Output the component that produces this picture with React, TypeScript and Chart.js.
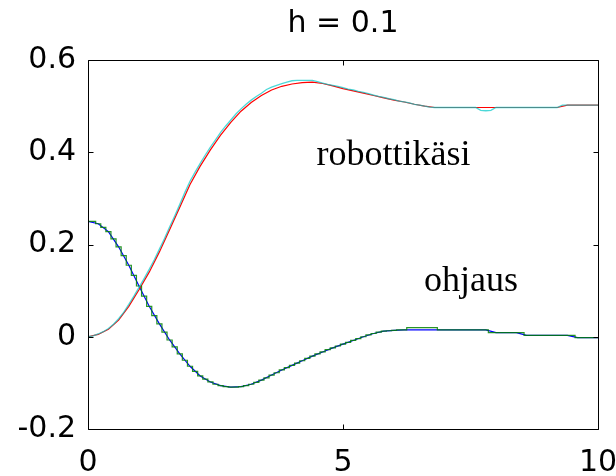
import React, { useEffect, useRef } from "react";
import { Chart, registerables } from "chart.js";

Chart.register(...registerables);

const TITLE = "h = 0.1";
const X_TICKS = [0, 5, 10];
const Y_TICKS = [-0.2, 0, 0.2, 0.4, 0.6];

const T_COARSE = [
  0, 0.2, 0.4, 0.6, 0.8, 1.0, 1.2, 1.4, 1.6, 1.8,
  2.0, 2.2, 2.4, 2.6, 2.8, 3.0, 3.2, 3.4, 3.6, 3.8,
  4.0, 4.2, 4.4, 4.6, 4.8, 5.0, 5.2, 5.4, 5.6, 5.8,
  6.0, 6.2, 6.4, 6.6, 6.8, 7.0, 7.2, 7.4, 7.6, 7.8,
  8.0, 8.2, 8.4, 8.6, 8.8, 9.0, 9.2, 9.4, 9.6, 9.8,
  10.0,
];

const T_FINE = [
  0, 0.1, 0.2, 0.3, 0.4, 0.5, 0.6, 0.7, 0.8, 0.9,
  1.0, 1.1, 1.2, 1.3, 1.4, 1.5, 1.6, 1.7, 1.8, 1.9,
  2.0, 2.1, 2.2, 2.3, 2.4, 2.5, 2.6, 2.7, 2.8, 2.9,
  3.0, 3.1, 3.2, 3.3, 3.4, 3.5, 3.6, 3.7, 3.8, 3.9,
  4.0, 4.1, 4.2, 4.3, 4.4, 4.5, 4.6, 4.7, 4.8, 4.9,
  5.0, 5.1, 5.2, 5.3, 5.4, 5.5, 5.6, 5.7, 5.8, 5.9,
  6.0, 6.1, 6.2, 6.3, 6.4, 6.5, 6.6, 6.7, 6.8, 6.9,
  7.0, 7.1, 7.2, 7.3, 7.4, 7.5, 7.6, 7.7, 7.8, 7.9,
  8.0, 8.1, 8.2, 8.3, 8.4, 8.5, 8.6, 8.7, 8.8, 8.9,
  9.0, 9.1, 9.2, 9.3, 9.4, 9.5, 9.6, 9.7, 9.8, 9.9,
  10.0,
];

// robottikäsi, continuous (red), on T_COARSE
const ROBOT_CONT = [
  0, 0.005, 0.016, 0.036, 0.066, 0.102, 0.14, 0.184, 0.232, 0.281,
  0.33, 0.37, 0.405, 0.437, 0.465, 0.489, 0.508, 0.523, 0.535, 0.543,
  0.548, 0.551, 0.552, 0.549, 0.544, 0.538, 0.533, 0.528, 0.523, 0.518,
  0.513, 0.509, 0.504, 0.5, 0.497, 0.497, 0.497, 0.497, 0.497, 0.497,
  0.497, 0.497, 0.497, 0.497, 0.497, 0.497, 0.497, 0.502, 0.502, 0.502,
  0.502,
];

// ohjaus, continuous (blue), on T_COARSE
const OHJAUS_CONT = [
  0.25, 0.245, 0.228, 0.195, 0.155, 0.11, 0.066, 0.028, -0.007, -0.037,
  -0.064, -0.085, -0.098, -0.106, -0.109, -0.108, -0.103, -0.094, -0.083, -0.072,
  -0.062, -0.052, -0.042, -0.033, -0.024, -0.016, -0.008, 0, 0.007, 0.012,
  0.014, 0.015, 0.015, 0.015, 0.015, 0.015, 0.015, 0.015, 0.015, 0.015,
  0.009, 0.009, 0.009, 0.003, 0.003, 0.003, 0.003, 0.003, -0.002, -0.002,
  -0.002,
];

// robottikäsi, sampled h = 0.1 (cyan), on T_FINE
const ROBOT_SAMPLED = [
  0, 0.002, 0.006, 0.011, 0.018, 0.027, 0.039, 0.053, 0.07, 0.088,
  0.107, 0.126, 0.146, 0.167, 0.19, 0.213, 0.238, 0.262, 0.287, 0.313,
  0.337, 0.357, 0.376, 0.394, 0.411, 0.427, 0.443, 0.457, 0.47, 0.483,
  0.494, 0.504, 0.513, 0.521, 0.528, 0.536, 0.541, 0.545, 0.549, 0.552,
  0.555, 0.556, 0.556, 0.556, 0.556, 0.553, 0.55, 0.547, 0.545, 0.543,
  0.54, 0.537, 0.535, 0.532, 0.53, 0.527, 0.524, 0.521, 0.519, 0.516,
  0.514, 0.511, 0.509, 0.507, 0.504, 0.502, 0.5, 0.498, 0.497, 0.497,
  0.497, 0.497, 0.497, 0.497, 0.497, 0.497, 0.497, 0.491, 0.49, 0.491,
  0.497, 0.497, 0.497, 0.497, 0.497, 0.497, 0.497, 0.497, 0.497, 0.497,
  0.497, 0.497, 0.497, 0.502, 0.502, 0.502, 0.502, 0.502, 0.502, 0.502,
  0.502,
];

// ohjaus, sampled h = 0.1 (green, held between samples), on T_FINE
const OHJAUS_SAMPLED = [
  0.25, 0.25, 0.245, 0.237, 0.228, 0.212, 0.195, 0.176, 0.155, 0.133,
  0.11, 0.088, 0.066, 0.046, 0.028, 0.01, -0.007, -0.022, -0.037, -0.051,
  -0.064, -0.075, -0.085, -0.092, -0.098, -0.103, -0.106, -0.108, -0.109, -0.109,
  -0.108, -0.106, -0.103, -0.099, -0.094, -0.089, -0.083, -0.078, -0.072, -0.067,
  -0.062, -0.057, -0.052, -0.047, -0.042, -0.037, -0.033, -0.028, -0.024, -0.02,
  -0.016, -0.012, -0.008, -0.004, 0, 0.004, 0.007, 0.01, 0.012, 0.013,
  0.014, 0.015, 0.015, 0.02, 0.02, 0.02, 0.02, 0.02, 0.02, 0.015,
  0.015, 0.015, 0.015, 0.015, 0.015, 0.015, 0.015, 0.015, 0.015, 0.009,
  0.009, 0.009, 0.009, 0.009, 0.009, 0.009, 0.003, 0.003, 0.003, 0.003,
  0.003, 0.003, 0.003, 0.003, 0.003, 0.003, -0.002, -0.002, -0.002, -0.002,
  -0.002,
];

const NOTE_TEXT = ["robottikäsi", "ohjaus"];
const NOTE_X = [4.48, 6.59];
const NOTE_Y = [0.3725, 0.0995];

const zip = (xs: number[], ys: number[]) => xs.map((x, i) => ({ x, y: ys[i] }));

const framePlugin = {
  id: "matlabFrame",
  afterDatasetsDraw(chart: any) {
    const { ctx, chartArea: a, scales } = chart;
    const xs = scales.x;
    const ys = scales.y;
    const L = Math.round(a.left) + 0.5;
    const R = Math.round(a.right) + 0.5;
    const T = Math.round(a.top) + 0.5;
    const B = Math.round(a.bottom) + 0.5;
    const tl = 5;
    ctx.save();
    ctx.strokeStyle = "#000";
    ctx.lineWidth = 1;
    ctx.beginPath();
    ctx.rect(L, T, R - L, B - T);
    X_TICKS.forEach((v) => {
      const px = Math.round(xs.getPixelForValue(v)) + 0.5;
      ctx.moveTo(px, B);
      ctx.lineTo(px, B - tl);
      ctx.moveTo(px, T);
      ctx.lineTo(px, T + tl);
    });
    Y_TICKS.forEach((v) => {
      const py = Math.round(ys.getPixelForValue(v)) + 0.5;
      ctx.moveTo(L, py);
      ctx.lineTo(L + tl, py);
      ctx.moveTo(R, py);
      ctx.lineTo(R - tl, py);
    });
    ctx.stroke();

    ctx.fillStyle = "#000";
    ctx.font = '36px "Liberation Serif"';
    ctx.textAlign = "left";
    ctx.textBaseline = "alphabetic";
    NOTE_TEXT.forEach((t, i) => {
      ctx.fillText(t, xs.getPixelForValue(NOTE_X[i]), ys.getPixelForValue(NOTE_Y[i]));
    });
    ctx.restore();
  },
};

export default function App() {
  const ref = useRef<HTMLCanvasElement | null>(null);

  useEffect(() => {
    if (!ref.current) return;
    const tickFont = { family: "DejaVu Sans", size: 30, weight: "normal" as const };
    const chart = new Chart(ref.current, {
      type: "line",
      data: {
        datasets: [
          {
            label: "robottikäsi (h = 0.1)",
            data: zip(T_FINE, ROBOT_SAMPLED),
            borderColor: "rgba(0, 200, 200, 0.7)",
            borderWidth: 1.3,
            pointRadius: 0,
            tension: 0,
          },
          {
            label: "ohjaus (h = 0.1)",
            data: zip(T_FINE, OHJAUS_SAMPLED),
            borderColor: "rgba(0, 128, 0, 0.85)",
            borderWidth: 1.2,
            pointRadius: 0,
            stepped: "middle",
          },
          {
            label: "robottikäsi",
            data: zip(T_COARSE, ROBOT_CONT),
            borderColor: "#ff0000",
            borderWidth: 1.2,
            pointRadius: 0,
            tension: 0,
          },
          {
            label: "ohjaus",
            data: zip(T_COARSE, OHJAUS_CONT),
            borderColor: "#0000ff",
            borderWidth: 1.2,
            pointRadius: 0,
            tension: 0,
          },
        ],
      },
      options: {
        animation: false,
        responsive: false,
        devicePixelRatio: 1,
        layout: { padding: { left: 0, right: 0, top: 0, bottom: 0 } },
        plugins: {
          legend: { display: false },
          tooltip: { enabled: false },
          title: {
            display: true,
            fullSize: false,
            text: TITLE,
            color: "#000",
            font: { family: "DejaVu Sans", size: 30, weight: "normal" },
            padding: { top: 6, bottom: 18 },
          },
        },
        scales: {
          x: {
            type: "linear",
            min: 0,
            max: 10,
            grid: { display: false, drawTicks: false },
            border: { display: false },
            ticks: {
              stepSize: 5,
              color: "#000",
              font: tickFont,
              padding: 16,
              maxRotation: 0,
              autoSkip: false,
            },
            afterFit: (s: any) => {
              s.height = 47;
              s.paddingLeft = 0;
              s.paddingRight = 18;
            },
          },
          y: {
            type: "linear",
            min: -0.2,
            max: 0.6,
            grid: { display: false, drawTicks: false },
            border: { display: false },
            ticks: {
              stepSize: 0.2,
              color: "#000",
              font: tickFont,
              padding: 12,
              callback: (v: any) => String(Number(Number(v).toFixed(1))),
            },
            afterFit: (s: any) => {
              s.width = 88;
            },
          },
        },
      },
      plugins: [framePlugin],
    });
    return () => chart.destroy();
  }, []);

  return (
    <div style={{ position: "absolute", left: 0, top: 0, width: 616, height: 476, background: "#fff" }}>
      <canvas ref={ref} width={616} height={476} />
    </div>
  );
}
